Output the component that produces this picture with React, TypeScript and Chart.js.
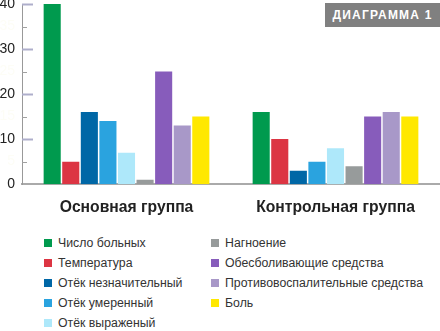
import React, { useEffect, useRef } from "react";
import { Chart, registerables } from "chart.js";

Chart.register(...registerables);

const categories = ["Основная группа", "Контрольная группа"];
const seriesNames = [
  "Число больных",
  "Температура",
  "Отёк незначительный",
  "Отёк умеренный",
  "Отёк выраженый",
  "Нагноение",
  "Обесболивающие средства",
  "Противовоспалительные средства",
  "Боль",
];
const seriesColors = [
  "#009a4e",
  "#dc3543",
  "#0067a6",
  "#2aa3df",
  "#aee8fa",
  "#979b9b",
  "#875cbb",
  "#a898c8",
  "#ffe800",
];
const mainGroupValues = [40, 5, 16, 14, 7, 1, 25, 13, 15];
const controlGroupValues = [16, 10, 3, 5, 8, 4, 15, 16, 15];
const yTicks = [0, 5, 10, 15, 20, 25, 30, 35, 40];

const FONT = "Arial, 'Liberation Sans', Helvetica, sans-serif";

const innerTicks = {
  id: "innerTicks",
  afterDraw(chart: any) {
    const y = chart.scales.y;
    const left = chart.chartArea.left;
    const ctx = chart.ctx;
    ctx.save();
    yTicks.forEach((v) => {
      const py = Math.round(y.getPixelForValue(v)) + 0.5;
      if (v === 0) return;
      const major = v % 10 === 0;
      ctx.strokeStyle = major ? "#aeaecb" : "#a0a0a0";
      ctx.lineWidth = major ? 2 : 1;
      ctx.beginPath();
      ctx.moveTo(left, py);
      ctx.lineTo(left + (major ? 11 : 5), py);
      ctx.stroke();
    });
    ctx.restore();
  },
};

export default function App() {
  const ref = useRef<HTMLCanvasElement>(null);

  useEffect(() => {
    if (!ref.current) return;
    const chart = new Chart(ref.current, {
      type: "bar",
      data: {
        labels: categories,
        datasets: seriesNames.map((name, i) => ({
          label: name,
          data: [mainGroupValues[i], controlGroupValues[i]],
          backgroundColor: seriesColors[i],
          borderWidth: 0,
          categoryPercentage: 0.8,
          barPercentage: 0.92,
        })),
      },
      options: {
        animation: false,
        responsive: false,
        layout: { padding: { top: 4, right: 0, bottom: 0, left: 0 } },
        plugins: {
          legend: { display: false },
          tooltip: { enabled: false },
          title: { display: false },
        },
        scales: {
          x: {
            grid: { display: false, drawTicks: false },
            border: { display: true, color: "#aaaaaa", width: 2 },
            ticks: {
              color: "#222",
              font: { family: FONT, size: 15.7, weight: "bold" },
              padding: 14,
            },
          },
          y: {
            min: 0,
            max: 40,
            afterBuildTicks: (s: any) => {
              s.ticks = yTicks.map((v) => ({ value: v }));
            },
            afterFit: (s: any) => {
              s.width = 22;
              s.paddingTop = 0;
              s.paddingBottom = 0;
            },
            grid: { display: false, drawTicks: false },
            border: { display: true, color: "#999999", width: 1 },
            ticks: {
              padding: 7,
              font: { family: FONT, size: 14 },
              color: (c: any) => (c.tick.value % 10 === 0 ? "#222" : "#fdfdf6"),
            },
          },
        },
      },
      plugins: [innerTicks],
    });
    return () => chart.destroy();
  }, []);

  const legendRow = (i: number, left: number, top: number) => (
    <div
      key={i}
      style={{
        position: "absolute",
        left,
        top,
        height: 20,
        display: "flex",
        alignItems: "center",
        whiteSpace: "nowrap",
      }}
    >
      <span
        style={{
          display: "inline-block",
          width: 8,
          height: 8,
          background: seriesColors[i],
          marginRight: 6,
        }}
      />
      <span style={{ font: `12.3px ${FONT}`, color: "#333" }}>{seriesNames[i]}</span>
    </div>
  );

  return (
    <div
      style={{
        position: "fixed",
        left: 0,
        top: 0,
        width: 440,
        height: 331,
        background: "#fff",
        overflow: "hidden",
      }}
    >
      <canvas
        ref={ref}
        width={440}
        height={231}
        style={{ position: "absolute", left: 0, top: 0, width: 440, height: 231 }}
      />
      <div
        style={{
          position: "absolute",
          left: 325,
          top: 3,
          width: 115,
          height: 24,
          background: "#808080",
          color: "#fff",
          font: `bold 12px ${FONT}`,
          letterSpacing: "1.2px",
          lineHeight: "24px",
          textAlign: "center",
        }}
      >
        ДИАГРАММА 1
      </div>
      {[0, 1, 2, 3, 4].map((i) => legendRow(i, 44, 233 + i * 20))}
      {[5, 6, 7, 8].map((i) => legendRow(i, 211, 233 + (i - 5) * 20))}
    </div>
  );
}
